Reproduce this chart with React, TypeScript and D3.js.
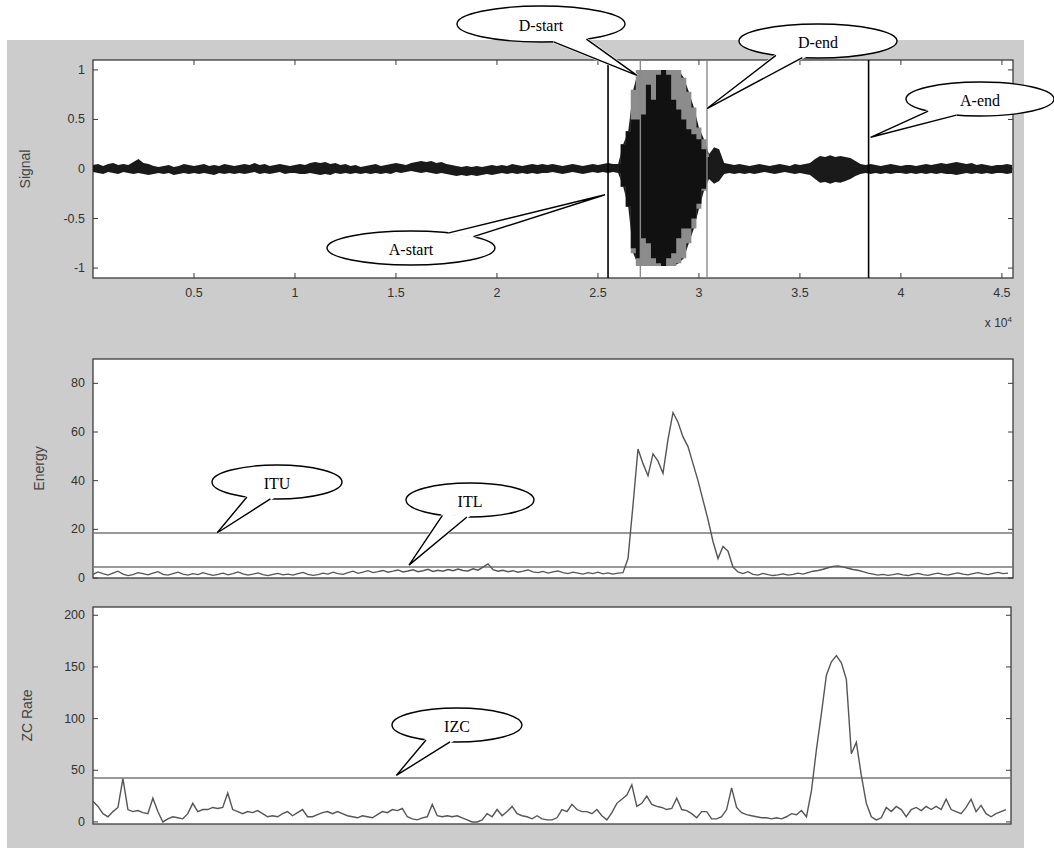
import React from 'react';
import * as d3 from 'd3';

// ---------------- data ----------------
const sigStep = 0.025; // x10^4 samples per envelope point
const sigHi = [
  0.04,0.05,0.03,0.05,0.06,0.04,0.05,0.04,0.07,0.10,
  0.06,0.05,0.03,0.02,0.03,0.04,0.02,0.03,0.05,0.04,
  0.03,0.04,0.05,0.03,0.04,0.03,0.05,0.04,0.03,0.04,
  0.05,0.04,0.06,0.04,0.05,0.03,0.04,0.05,0.04,0.03,
  0.04,0.05,0.04,0.06,0.07,0.06,0.07,0.05,0.06,0.04,
  0.05,0.03,0.04,0.02,0.03,0.04,0.05,0.03,0.04,0.05,
  0.06,0.05,0.04,0.06,0.07,0.08,0.07,0.08,0.06,0.07,
  0.05,0.04,0.03,0.02,0.03,0.02,0.03,0.02,0.03,0.04,
  0.03,0.04,0.03,0.05,0.04,0.03,0.04,0.05,0.04,0.05,
  0.04,0.05,0.04,0.03,0.04,0.05,0.04,0.03,0.04,0.05,
  0.04,0.05,0.06,0.05,0.05,0.25,0.38,0.80,1.00,1.00,
  1.00,1.00,1.00,1.00,1.00,1.00,1.00,0.92,0.78,0.62,
  0.42,0.30,0.15,0.22,0.20,0.06,0.05,0.04,0.05,0.04,
  0.03,0.04,0.05,0.04,0.03,0.04,0.05,0.04,0.03,0.05,
  0.04,0.05,0.06,0.10,0.13,0.12,0.14,0.12,0.13,0.12,
  0.11,0.08,0.05,0.04,0.05,0.04,0.03,0.04,0.05,0.04,
  0.03,0.04,0.04,0.03,0.04,0.05,0.04,0.05,0.06,0.05,
  0.06,0.07,0.06,0.05,0.06,0.04,0.05,0.04,0.03,0.04,
  0.04,0.05,0.04,
];
const sigLo = [
  -0.03,-0.04,-0.05,-0.03,-0.04,-0.05,-0.03,-0.04,-0.05,-0.04,
  -0.05,-0.06,-0.05,-0.04,-0.05,-0.04,-0.06,-0.05,-0.04,-0.05,
  -0.04,-0.05,-0.04,-0.05,-0.06,-0.04,-0.05,-0.04,-0.05,-0.04,
  -0.05,-0.04,-0.03,-0.05,-0.04,-0.05,-0.04,-0.03,-0.05,-0.04,
  -0.04,-0.05,-0.05,-0.04,-0.05,-0.06,-0.05,-0.06,-0.04,-0.05,
  -0.04,-0.05,-0.04,-0.05,-0.04,-0.05,-0.04,-0.05,-0.04,-0.05,
  -0.03,-0.04,-0.03,-0.02,-0.03,-0.04,-0.03,-0.04,-0.05,-0.04,
  -0.05,-0.06,-0.07,-0.06,-0.07,-0.06,-0.07,-0.06,-0.05,-0.06,
  -0.05,-0.04,-0.05,-0.04,-0.05,-0.04,-0.05,-0.04,-0.05,-0.04,
  -0.04,-0.03,-0.04,-0.05,-0.04,-0.03,-0.04,-0.05,-0.04,-0.03,
  -0.04,-0.03,-0.04,-0.03,-0.04,-0.18,-0.38,-0.85,-0.98,-0.98,
  -0.98,-0.98,-0.98,-0.98,-0.98,-0.98,-0.95,-0.90,-0.75,-0.60,
  -0.40,-0.22,-0.10,-0.15,-0.12,-0.05,-0.04,-0.05,-0.04,-0.05,
  -0.04,-0.05,-0.04,-0.03,-0.04,-0.05,-0.04,-0.03,-0.04,-0.05,
  -0.04,-0.05,-0.06,-0.10,-0.14,-0.13,-0.15,-0.13,-0.14,-0.12,
  -0.10,-0.07,-0.05,-0.04,-0.05,-0.04,-0.05,-0.04,-0.05,-0.04,
  -0.04,-0.05,-0.04,-0.05,-0.04,-0.05,-0.04,-0.05,-0.04,-0.05,
  -0.05,-0.06,-0.05,-0.04,-0.05,-0.04,-0.05,-0.04,-0.05,-0.04,
  -0.04,-0.05,-0.04,
];
const burstStart = 104;
const burstHi = [0.05,0.25,0.38,0.50,0.50,0.55,0.85,0.70,0.95,1.00,0.95,0.70,0.60,0.50,0.40,0.35,0.30,0.20,0.12];
const burstLo = [-0.04,-0.18,-0.38,-0.80,-0.90,-0.70,-0.75,-0.90,-0.95,-0.98,-0.90,-0.85,-0.70,-0.60,-0.60,-0.50,-0.35,-0.20,-0.10];

const markerNames = ['A-start', 'D-start', 'D-end', 'A-end'];
const markerX = [2.55, 2.71, 3.04, 3.84];

const energy = [
  1.5,2.5,1.8,1.2,2.0,2.8,1.6,1.0,1.4,2.2,1.8,1.3,2.0,2.6,1.5,1.2,1.8,2.4,1.6,1.2,
  1.8,1.4,2.2,1.6,1.1,1.5,2.0,1.3,1.8,2.5,1.7,1.2,1.6,2.1,1.4,1.0,1.5,1.9,1.3,1.6,
  1.2,1.8,2.3,1.5,1.1,1.4,2.0,1.6,2.4,1.8,1.5,2.2,2.8,1.9,2.4,3.0,2.2,2.6,3.1,2.4,
  2.8,3.3,2.5,2.9,3.4,2.6,3.0,3.6,2.7,3.2,2.8,3.5,3.0,3.7,3.1,2.9,3.8,3.2,4.5,5.8,
  3.4,2.8,3.2,2.6,3.0,2.4,2.8,3.3,2.5,2.2,2.7,2.0,2.5,2.9,2.2,1.8,2.4,2.0,1.6,2.2,
  1.8,2.4,1.7,2.1,1.6,2.0,2.2,8,30,53,47,42,51,48,43,57,68,64,58,54,
  47,40,32,24,15,8,13,11,4.5,2.5,
  1.8,2.6,1.5,1.2,1.9,1.4,1.0,1.3,1.7,1.2,1.5,2.0,1.6,2.2,2.8,3.1,3.6,
  4.2,4.8,5.0,4.6,4.0,3.5,
  3.2,2.6,2.0,1.6,1.2,1.5,1.1,1.4,1.8,1.3,1.0,1.5,1.9,1.4,1.1,1.6,2.0,1.5,1.2,1.7,
  2.1,1.6,1.3,1.8,2.2,1.7,1.4,1.9,2.3,1.8,2.0,
];
const zcRate = [
  20,15,8,5,10,14,42,12,10,11,9,8,23,10,0,3,5,4,3,8,
  18,10,12,12,14,13,14,28,12,10,8,10,9,11,8,5,6,5,8,10,
  6,9,12,5,5,7,9,10,8,10,8,6,5,4,6,5,4,7,10,9,
  12,11,13,5,3,2,4,5,17,6,5,6,5,6,4,2,0,0,2,8,
  5,12,6,10,15,8,6,5,3,6,3,2,2,4,12,10,17,12,10,10,
  8,12,6,2,9,18,22,26,36,15,18,25,17,15,14,12,13,23,12,11,
  8,4,10,10,3,3,5,12,33,14,9,7,6,5,4,4,3,4,3,5,
  8,7,11,5,30,70,105,142,155,161,154,138,66,77,45,18,5,2,4,14,
  10,15,12,5,12,14,11,15,12,15,12,22,12,10,8,14,22,10,16,8,
  5,8,10,12,
];
const ITU = 18.5;
const ITL = 4.5;
const IZC = 42.5;

const sigXTicks = [0.5, 1, 1.5, 2, 2.5, 3, 3.5, 4, 4.5];
const sigYTicks = [-1, -0.5, 0, 0.5, 1];
const energyTicks = [0, 20, 40, 60, 80];
const zcTicks = [0, 50, 100, 150, 200];

// ---------------- layout ----------------
const W = 1054, H = 848;
const P1 = { x0: 93, x1: 1013, y0: 60, y1: 278 };
const P2 = { x0: 93, x1: 1013, y0: 359, y1: 578 };
const P3 = { x0: 93, x1: 1011, y0: 607, y1: 824 };
const AX = '#3c3c3c';
const TXT = '#333';
const SANS = 'Liberation Sans, Arial, sans-serif';
const SERIF = 'Liberation Serif, Times New Roman, serif';

function Frame({ p, yTicks, ys, fmt, xTicks, xs, label, labelX }: any) {
  const tl = 5;
  return (
    <g>
      <rect x={p.x0} y={p.y0} width={p.x1 - p.x0} height={p.y1 - p.y0} fill="#fff" stroke={AX} strokeWidth={1.3} />
      {yTicks.map((t: number) => (
        <g key={'y' + t}>
          <line x1={p.x0} x2={p.x0 + tl} y1={ys(t)} y2={ys(t)} stroke={AX} strokeWidth={1} />
          <line x1={p.x1} x2={p.x1 - tl} y1={ys(t)} y2={ys(t)} stroke={AX} strokeWidth={1} />
          <text x={p.x0 - 8} y={ys(t)} textAnchor="end" dominantBaseline="central" fontFamily={SANS} fontSize={12.5} fill={TXT}>{fmt(t)}</text>
        </g>
      ))}
      {xTicks && xTicks.map((t: number) => (
        <g key={'x' + t}>
          <line x1={xs(t)} x2={xs(t)} y1={p.y1} y2={p.y1 - tl} stroke={AX} strokeWidth={1} />
          <line x1={xs(t)} x2={xs(t)} y1={p.y0} y2={p.y0 + tl} stroke={AX} strokeWidth={1} />
          <text x={xs(t)} y={p.y1 + 19} textAnchor="middle" fontFamily={SANS} fontSize={12.5} fill={TXT}>{fmt(t)}</text>
        </g>
      ))}
      <text transform={`translate(${labelX},${(p.y0 + p.y1) / 2}) rotate(-90)`} textAnchor="middle" fontFamily={SANS} fontSize={14} fill="#444">{label}</text>
    </g>
  );
}

function Callout({ cx, cy, rx, ry, b1, b2, tip, text }: any) {
  const proj = (b: number[]) => {
    const a = Math.atan2((b[1] - cy) / ry, (b[0] - cx) / rx);
    return [cx + rx * Math.cos(a), cy + ry * Math.sin(a), a];
  };
  const p1 = proj(b1), p2 = proj(b2);
  let da = p2[2] - p1[2];
  while (da > Math.PI) da -= 2 * Math.PI;
  while (da < -Math.PI) da += 2 * Math.PI;
  const sweep = da < 0 ? 1 : 0;
  const fillPath = `M${p1[0]},${p1[1]} L${tip[0]},${tip[1]} L${p2[0]},${p2[1]} A${rx},${ry} 0 0 ${sweep} ${p1[0]},${p1[1]} Z`;
  return (
    <g>
      <ellipse cx={cx} cy={cy} rx={rx} ry={ry} fill="#fff" stroke="#000" strokeWidth={1.4} />
      <path d={fillPath} fill="#fff" stroke="#fff" strokeWidth={2.6} />
      <polyline points={`${p1[0]},${p1[1]} ${tip[0]},${tip[1]} ${p2[0]},${p2[1]}`} fill="none" stroke="#000" strokeWidth={1.4} />
      <text x={cx} y={cy + 1} textAnchor="middle" dominantBaseline="central" fontFamily={SERIF} fontSize={16} fill="#000">{text}</text>
    </g>
  );
}

export default function App() {
  const xs = d3.scaleLinear().domain([0, 4.555]).range([P1.x0, P1.x1]);
  const ys = d3.scaleLinear().domain([-1.1, 1.1]).range([P1.y1, P1.y0]);
  const xe = d3.scaleLinear().domain([0, 184]).range([P2.x0, P2.x1]);
  const ye = d3.scaleLinear().domain([0, 90]).range([P2.y1, P2.y0]);
  const xz = d3.scaleLinear().domain([0, 184]).range([P3.x0, P3.x1]);
  const yz = d3.scaleLinear().domain([-2, 208]).range([P3.y1, P3.y0]);

  const outerArea = d3.area<number>()
    .x((_, i) => xs(i * sigStep))
    .y0((_, i) => ys(sigLo[i]))
    .y1((d) => ys(d));
  const burstOuter = d3.area<number>()
    .x((_, i) => xs((i + burstStart) * sigStep))
    .y0((_, i) => ys(sigLo[i + burstStart]))
    .y1((d) => ys(d))
    .curve(d3.curveStep);
  const burstInner = d3.area<number>()
    .x((_, i) => xs((i + burstStart) * sigStep))
    .y0((_, i) => ys(burstLo[i]))
    .y1((d) => ys(d))
    .curve(d3.curveStep);
  const burstOuterData = sigHi.slice(burstStart, burstStart + burstHi.length);

  const eLine = d3.line<number>().x((_, i) => xe(i)).y((d) => ye(d));
  const zLine = d3.line<number>().x((_, i) => xz(i)).y((d) => yz(d));

  const fmtNum = (t: number) => String(t);

  const callouts = [
    { text: 'D-start', cx: 541, cy: 24, rx: 84, ry: 18, b1: [553, 41], b2: [583, 38], tip: [xs(2.693), ys(0.945)] },
    { text: 'D-end', cx: 818, cy: 41, rx: 79, ry: 17, b1: [777, 55], b2: [803, 57], tip: [xs(3.04), ys(0.61)] },
    { text: 'A-end', cx: 980, cy: 99, rx: 74, ry: 17, b1: [933, 110], b2: [958, 114], tip: [xs(3.85), ys(0.32)] },
    { text: 'A-start', cx: 411, cy: 248, rx: 84, ry: 17, b1: [451, 232], b2: [477, 236], tip: [xs(2.535), ys(-0.26)] },
    { text: 'ITU', cx: 277, cy: 482, rx: 65, ry: 17, b1: [247, 497], b2: [270, 500], tip: [xe(24.8), ye(ITU)] },
    { text: 'ITL', cx: 470, cy: 500, rx: 64, ry: 17, b1: [443, 515], b2: [467, 517], tip: [xe(63.2), ye(5.3)] },
    { text: 'IZC', cx: 457, cy: 725, rx: 65, ry: 17, b1: [428, 739], b2: [450, 742], tip: [xz(60.8), yz(45)] },
  ];

  return (
    <svg width={W} height={H} style={{ position: 'absolute', left: 0, top: 0, background: '#fff' }}>
      <rect x={7} y={40} width={1017} height={H - 40} fill="#cccccc" />

      {/* Signal panel */}
      <Frame p={P1} yTicks={sigYTicks} ys={ys} fmt={fmtNum} xTicks={sigXTicks} xs={xs} label="Signal" labelX={30} />
      <path d={outerArea(sigHi) || ''} fill="#1a1a1a" />
      <path d={burstOuter(burstOuterData) || ''} fill="#8c8c8c" />
      <path d={burstInner(burstHi) || ''} fill="#111" />
      {markerX.map((mx, i) => (
        <line key={markerNames[i]} x1={xs(mx)} x2={xs(mx)} y1={P1.y0} y2={P1.y1}
          stroke={markerNames[i].startsWith('A') ? '#000' : '#8a8a8a'} strokeWidth={markerNames[i].startsWith('A') ? 1.6 : 1.4} />
      ))}
      <text x={1012} y={327} textAnchor="end" fontFamily={SANS} fontSize={12} fill={TXT}>
        {'x 10'}<tspan fontSize={8} dy={-5}>4</tspan>
      </text>

      {/* Energy panel */}
      <Frame p={P2} yTicks={energyTicks} ys={ye} fmt={fmtNum} label="Energy" labelX={44} />
      <line x1={P2.x0} x2={P2.x1} y1={ye(ITU)} y2={ye(ITU)} stroke="#777" strokeWidth={1.4} />
      <line x1={P2.x0} x2={P2.x1} y1={ye(ITL)} y2={ye(ITL)} stroke="#777" strokeWidth={1.4} />
      <path d={eLine(energy) || ''} fill="none" stroke="#555" strokeWidth={1.4} />

      {/* ZC panel */}
      <Frame p={P3} yTicks={zcTicks} ys={yz} fmt={fmtNum} label="ZC Rate" labelX={32} />
      <line x1={P3.x0} x2={P3.x1} y1={yz(IZC)} y2={yz(IZC)} stroke="#777" strokeWidth={1.4} />
      <path d={zLine(zcRate) || ''} fill="none" stroke="#555" strokeWidth={1.4} />

      {callouts.map((c) => <Callout key={c.text} {...c} />)}
    </svg>
  );
}
